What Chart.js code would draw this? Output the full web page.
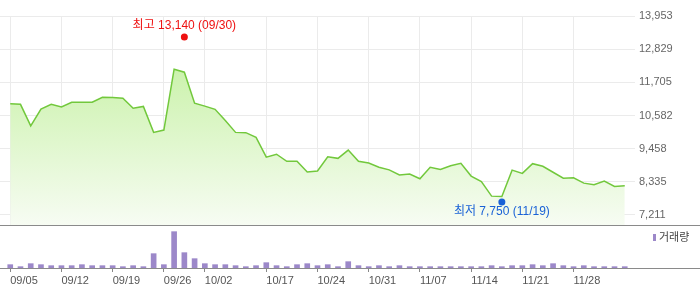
<!DOCTYPE html>
<html lang="ko">
<head>
<meta charset="utf-8">
<script src="https://cdn.jsdelivr.net/npm/chart.js@4.4.1/dist/chart.umd.min.js"></script>
<style>
  html, body { margin: 0; padding: 0; background: #fff; }
  #wrap { position: relative; width: 700px; height: 289px; overflow: hidden; }
  #priceBox { position: absolute; left: 0; top: 0; width: 700px; height: 226px; }
  #volBox { position: absolute; left: 0; top: 226px; width: 700px; height: 63px; }
</style>
</head>
<body>
<div id="wrap">
  <div id="priceBox"><canvas id="priceChart"></canvas></div>
  <div id="volBox"><canvas id="volumeChart"></canvas></div>
</div>
<script>
// trading days (MM/DD)
const dates = [
  "09/05", "09/08", "09/09", "09/10", "09/11", "09/12", "09/15", "09/16", "09/17", "09/18",
  "09/19", "09/22", "09/23", "09/24", "09/25", "09/26", "09/29", "09/30", "10/01", "10/02",
  "10/10", "10/13", "10/14", "10/15", "10/16", "10/17", "10/20", "10/21", "10/22", "10/23",
  "10/24", "10/27", "10/28", "10/29", "10/30", "10/31", "11/03", "11/04", "11/05", "11/06",
  "11/07", "11/10", "11/11", "11/12", "11/13", "11/14", "11/17", "11/18", "11/19", "11/20",
  "11/21", "11/24", "11/25", "11/26", "11/27", "11/28", "12/01", "12/02", "12/03", "12/04",
  "12/05"
];

// closing price
const closes = [
  10980, 10960, 10230, 10800, 10960, 10870, 11030, 11030, 11030, 11200,
  11190, 11170, 10830, 10890, 10010, 10090, 12150, 12050, 11000, 10900,
  10790, 10410, 10010, 10000, 9840, 9170, 9270, 9030, 9030, 8670,
  8700, 9180, 9130, 9410, 9030, 8970, 8830, 8740, 8570, 8600,
  8440, 8830, 8750, 8880, 8960, 8530, 8340, 7850, 7840, 8730,
  8620, 8950, 8860, 8660, 8460, 8470, 8290, 8240, 8360, 8180,
  8200
];

// trading volume (relative, thousand shares)
const volumes = [
  100, 40, 130, 100, 70, 70, 70, 100, 70, 70,
  70, 40, 70, 40, 430, 100, 1090, 460, 280, 130,
  100, 100, 70, 40, 70, 160, 70, 40, 100, 130,
  70, 100, 40, 190, 70, 40, 70, 40, 70, 40,
  40, 40, 40, 40, 40, 40, 40, 70, 40, 70,
  70, 100, 70, 130, 70, 40, 70, 40, 40, 40,
  40
];

const tickDates = ["09/05", "09/12", "09/19", "09/26", "10/02", "10/17", "10/24", "10/31", "11/07", "11/14", "11/21", "11/28"];
const priceTicks = [13953, 12829, 11705, 10582, 9458, 8335, 7211];
const highMark = { date: "09/30", value: 13140 };
const lowMark = { date: "11/19", value: 7750 };

const FONT = '"Liberation Sans", "Noto Sans CJK KR", sans-serif';
const tickIdx = tickDates.map(d => dates.indexOf(d));
const fmt = v => v.toLocaleString("en-US");

// line across the whole canvas width at the bottom of the plot
const baseLine = {
    id: "baseLine",
    afterDraw(chart) {
        const ctx = chart.ctx;
        const y = chart.chartArea.bottom + 0.5;
        ctx.save();
        ctx.strokeStyle = "#8a8a8a";
        ctx.lineWidth = 1;
        ctx.beginPath();
        ctx.moveTo(0, y);
        ctx.lineTo(chart.width, y);
        ctx.stroke();
        ctx.restore();
    }
};

// high / low markers with labels
const hiLo = {
    id: "hiLo",
    afterDatasetsDraw(chart) {
        const ctx = chart.ctx;
        const xs = chart.scales.x, ys = chart.scales.y;
        const marks = [
            { m: highMark, color: "#ee1111", text: "최고 ", dy: -3, ty: -11 },
            { m: lowMark, color: "#1a62d6", text: "최저 ", dy: 3, ty: 10 }
        ];
        ctx.save();
        marks.forEach(k => {
            const x = xs.getPixelForValue(dates.indexOf(k.m.date));
            const y = ys.getPixelForValue(k.m.value) + k.dy;
            ctx.fillStyle = k.color;
            ctx.beginPath();
            ctx.arc(x, y, 3.5, 0, Math.PI * 2);
            ctx.fill();
            ctx.font = "12px " + FONT;
            ctx.textAlign = "center";
            ctx.textBaseline = "middle";
            ctx.fillText(k.text + fmt(k.m.value) + " (" + k.m.date + ")", x, y + k.ty);
        });
        ctx.restore();
    }
};

// volume legend
const volLegend = {
    id: "volLegend",
    afterDraw(chart) {
        const ctx = chart.ctx;
        ctx.save();
        ctx.fillStyle = "#9c88c9";
        ctx.fillRect(653, 8, 3, 7);
        ctx.fillStyle = "#444";
        ctx.font = "11px " + FONT;
        ctx.textAlign = "left";
        ctx.textBaseline = "middle";
        ctx.fillText("거래량", 659, 11.5);
        ctx.restore();
    }
};

new Chart(document.getElementById("priceChart").getContext("2d"), {
    type: "line",
    data: {
        datasets: [{
            data: closes.map((v, i) => ({ x: i, y: v })),
            borderColor: "#72c83c",
            borderWidth: 1.5,
            pointRadius: 0,
            tension: 0,
            fill: "start",
            backgroundColor: function (context) {
                const area = context.chart.chartArea;
                if (!area) return "rgba(200,240,170,0.6)";
                const g = context.chart.ctx.createLinearGradient(0, area.top, 0, area.bottom);
                g.addColorStop(0, "#bdef95");
                g.addColorStop(1, "#f7fcf3");
                return g;
            }
        }]
    },
    options: {
        responsive: true,
        maintainAspectRatio: false,
        animation: false,
        layout: { padding: { top: 16, bottom: 1, left: 0, right: 0 } },
        plugins: { legend: { display: false }, tooltip: { enabled: false } },
        scales: {
            x: {
                type: "linear",
                min: -1,
                max: dates.length,
                afterBuildTicks: s => { s.ticks = tickIdx.map(v => ({ value: v })); },
                afterFit: s => { s.height = 0; s.paddingLeft = 0; s.paddingRight = 0; },
                ticks: { display: false },
                grid: { color: "#ebebeb", drawTicks: false },
                border: { display: false }
            },
            y: {
                position: "right",
                min: 6872,
                max: 13953,
                afterBuildTicks: s => { s.ticks = priceTicks.map(v => ({ value: v })); },
                afterFit: s => { s.width = 65; s.paddingTop = 0; s.paddingBottom = 0; },
                ticks: {
                    padding: 4,
                    color: "#666",
                    font: { size: 11, family: FONT },
                    callback: v => fmt(v)
                },
                grid: { color: "#ebebeb", drawTicks: false },
                border: { display: false }
            }
        }
    },
    plugins: [baseLine, hiLo]
});

new Chart(document.getElementById("volumeChart").getContext("2d"), {
    type: "bar",
    data: {
        datasets: [{
            data: volumes.map((v, i) => ({ x: i, y: v })),
            backgroundColor: "#9c88c9",
            barThickness: 5
        }]
    },
    options: {
        responsive: true,
        maintainAspectRatio: false,
        animation: false,
        layout: { padding: 0 },
        plugins: { legend: { display: false }, tooltip: { enabled: false } },
        scales: {
            x: {
                type: "linear",
                offset: false,
                min: -1,
                max: dates.length,
                afterBuildTicks: s => { s.ticks = tickIdx.map(v => ({ value: v })); },
                afterFit: s => { s.height = 21; s.paddingLeft = 0; s.paddingRight = 0; },
                ticks: {
                    align: "start",
                    padding: 2,
                    maxRotation: 0,
                    autoSkip: false,
                    color: "#555",
                    font: { size: 11, family: FONT },
                    callback: v => dates[v]
                },
                grid: { offset: false, drawOnChartArea: false, drawTicks: true, tickLength: 4, color: "#888" },
                border: { display: false }
            },
            y: {
                position: "right",
                min: 0,
                max: 1260,
                afterFit: s => { s.width = 65; s.paddingTop = 0; s.paddingBottom = 0; },
                ticks: { display: false },
                grid: { display: false },
                border: { display: false }
            }
        }
    },
    plugins: [baseLine, volLegend]
});
</script>
</body>
</html>
